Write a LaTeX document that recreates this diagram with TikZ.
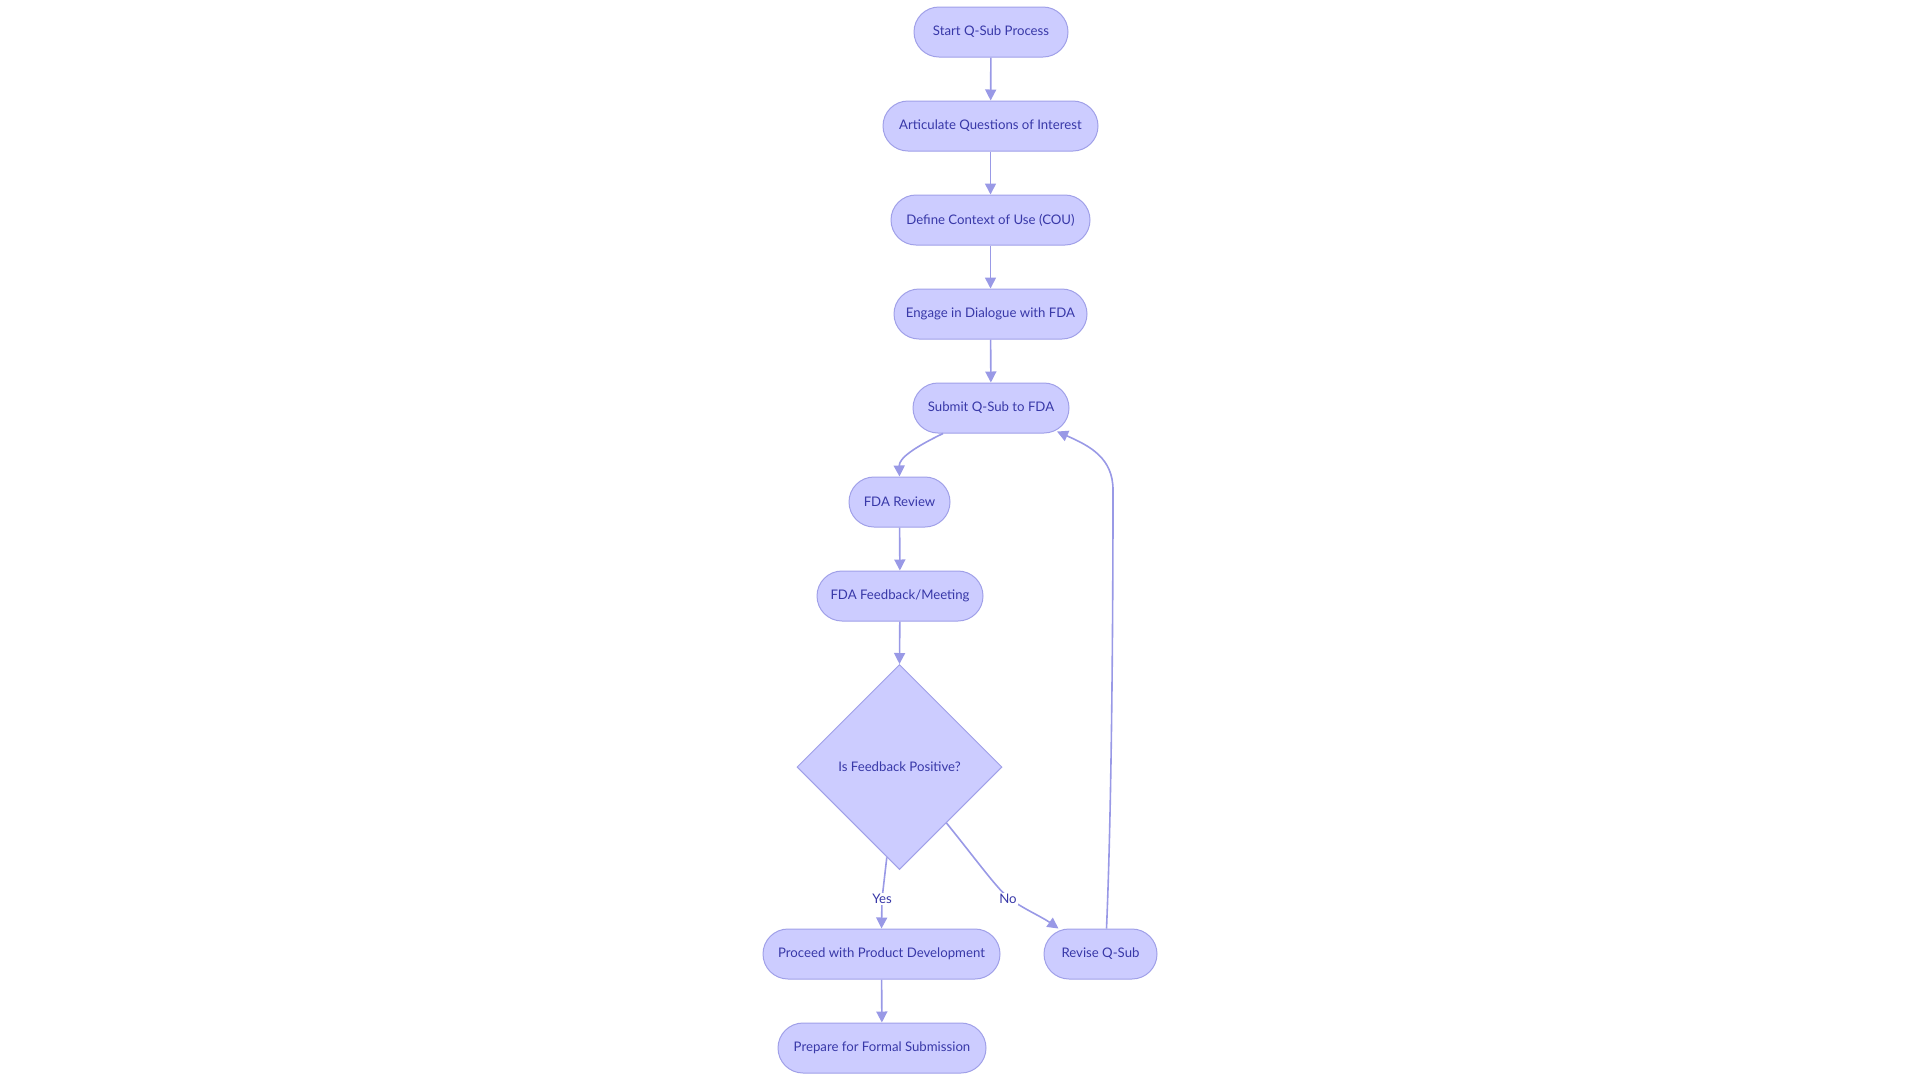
\documentclass[tikz,border=0pt]{standalone}
\usepackage{fontspec}
\setmainfont{Lato}
\usetikzlibrary{shapes.geometric,arrows.meta}
\definecolor{nfill}{RGB}{204,204,255}
\definecolor{nstroke}{RGB}{160,160,232}
\definecolor{ntext}{RGB}{56,56,168}
\definecolor{eline}{RGB}{153,153,230}
\tikzset{
  x=1pt,y=1pt,
  pill/.style={draw=nstroke,fill=nfill,line width=1pt,rounded corners=25pt,
    minimum height=50pt,minimum width=#1,inner sep=0pt,text=ntext,
    font=\fontsize{13.2}{15}\selectfont},
  decision/.style={draw=nstroke,fill=nfill,line width=1pt,diamond,aspect=1,
    minimum width=205pt,minimum height=205pt,inner sep=0pt,text=ntext,
    font=\fontsize{13.2}{15}\selectfont},
  edge/.style={draw=eline,line width=1.6pt,-{Triangle[length=11pt,width=11pt]}},
  elabel/.style={fill=white,inner sep=1pt,text=ntext,font=\fontsize{13.2}{15}\selectfont}
}
\begin{document}
\begin{tikzpicture}
\useasboundingbox (0,0) rectangle (1920,-1080);
\node[pill=154pt] (start) at (991,-32) {Start Q-Sub Process};
\node[pill=215pt] (artic) at (990.5,-126) {Articulate Questions of Interest};
\node[pill=199pt] (define) at (990.5,-220) {Define Context of Use (COU)};
\node[pill=193pt] (engage) at (990.5,-314) {Engage in Dialogue with FDA};
\node[pill=156pt] (submit) at (991,-408) {Submit Q-Sub to FDA};
\node[pill=101pt] (review) at (899.5,-502) {FDA Review};
\node[pill=166pt] (feedback) at (900,-596) {FDA Feedback/Meeting};
\node[decision] (dia) at (899.5,-767) {Is Feedback Positive?};
\node[pill=237pt] (proceed) at (881.5,-954) {Proceed with Product Development};
\node[pill=113pt] (revise) at (1100.5,-954) {Revise Q-Sub};
\node[pill=208pt] (prepare) at (882,-1048) {Prepare for Formal Submission};

\draw[edge] (start) -- (artic);
\draw[edge] (artic) -- (define);
\draw[edge] (define) -- (engage);
\draw[edge] (engage) -- (submit);
\draw[edge] ([xshift=-48pt]submit.south) .. controls (915,-447) and (899,-458) .. (review.north);
\draw[edge] (review) -- (feedback);
\draw[edge] (feedback) -- (dia.north);
\draw[edge] (dia.262) -- (882,-899) -- (proceed.north);
\node[elabel] (yes) at (882,-899) {Yes};
\draw[edge] (dia.-50) .. controls (978,-862) and (998,-890) .. (1010,-899)
   .. controls (1024,-909) and (1042,-917) .. ([xshift=-42pt]revise.north);
\node[elabel] (no) at (1008,-899) {No};
\draw[edge] ([xshift=6pt]revise.north) .. controls (1112,-800) and (1113,-600) .. (1113,-490)
   .. controls (1113,-458) and (1090,-446) .. ([xshift=66pt,yshift=2pt]submit.south);
\draw[edge] (proceed) -- (prepare);
\end{tikzpicture}
\end{document}
